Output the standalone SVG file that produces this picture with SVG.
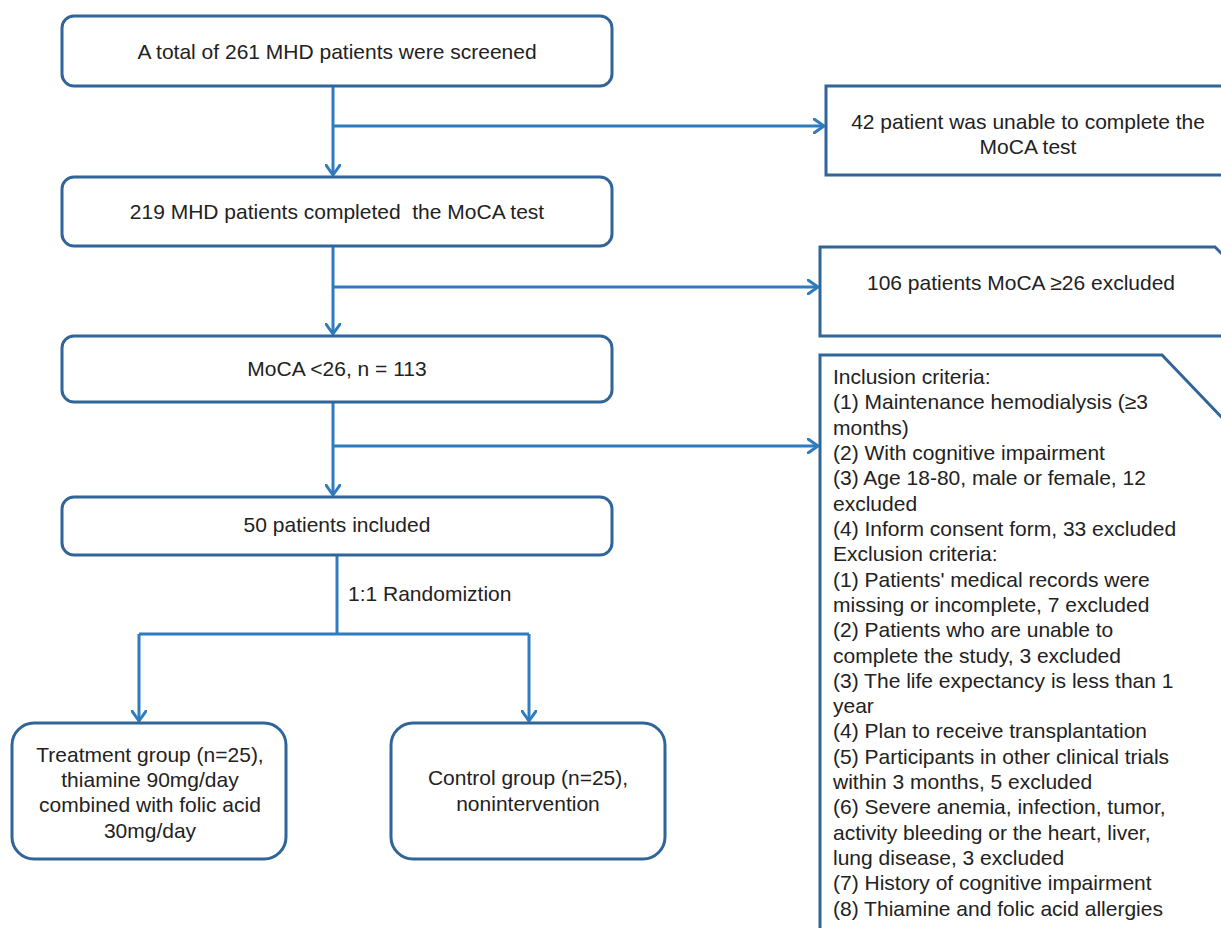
<svg xmlns="http://www.w3.org/2000/svg" width="1221" height="928" viewBox="0 0 1221 928">
<defs>
<marker id="arr" viewBox="0 0 12 16" refX="11" refY="8" markerWidth="12" markerHeight="16" markerUnits="userSpaceOnUse" orient="auto">
<path d="M1,1 L11,8 L1,15" fill="none" stroke="#2e7cc0" stroke-width="3" stroke-linecap="round" stroke-linejoin="round"/>
</marker>
<style>
.box{fill:#fff;stroke:#30659a;stroke-width:3}
.ln{fill:none;stroke:#2e7cc0;stroke-width:3}
text{font-family:"Liberation Sans",Arial,sans-serif;font-size:21px;fill:#222}
.c{text-anchor:middle}
</style>
</defs>
<rect width="1221" height="928" fill="#fff"/>
<g id="connectors">
<path class="ln" d="M333,86 V175" marker-end="url(#arr)"/>
<path class="ln" d="M333,126 H824" marker-end="url(#arr)"/>
<path class="ln" d="M333,246 V334" marker-end="url(#arr)"/>
<path class="ln" d="M333,287 H818" marker-end="url(#arr)"/>
<path class="ln" d="M333,402 V495" marker-end="url(#arr)"/>
<path class="ln" d="M333,446 H818" marker-end="url(#arr)"/>
<path class="ln" d="M337,555 V634"/>
<path class="ln" d="M139,634 H529"/>
<path class="ln" d="M139,634 V721" marker-end="url(#arr)"/>
<path class="ln" d="M529,634 V721" marker-end="url(#arr)"/>
<text x="348" y="601">1:1 Randomiztion</text>
</g>
<g id="n1">
<rect class="box" x="62" y="16" width="550" height="70" rx="12"/>
<text class="c" x="337" y="59">A total of 261 MHD patients were screened</text>
</g>
<g id="n2">
<rect class="box" x="62" y="177" width="550" height="69" rx="12"/>
<text class="c" x="337" y="219" xml:space="preserve">219 MHD patients completed  the MoCA test</text>
</g>
<g id="n3">
<rect class="box" x="62" y="336" width="550" height="66" rx="12"/>
<text class="c" x="337" y="376">MoCA &lt;26, n = 113</text>
</g>
<g id="n4">
<rect class="box" x="62" y="497" width="550" height="58" rx="12"/>
<text class="c" x="337" y="532">50 patients included</text>
</g>
<g id="n5">
<rect class="box" x="826" y="86" width="420" height="89"/>
<text class="c" x="1028" y="129">42 patient was unable to complete the</text>
<text class="c" x="1028" y="154">MoCA test</text>
</g>
<g id="n6">
<path class="box" d="M820,247 H1215 L1245,277 V336 H820 Z"/>
<text class="c" x="1021" y="290">106 patients MoCA ≥26 excluded</text>
</g>
<g id="n7">
<path class="box" d="M820,355 H1162 L1250,447 V960 H820 Z"/>
<text x="833" y="384">Inclusion criteria:</text>
<text x="833" y="409">(1) Maintenance hemodialysis (≥3</text>
<text x="833" y="435">months)</text>
<text x="833" y="460">(2) With cognitive impairment</text>
<text x="833" y="485">(3) Age 18-80, male or female, 12</text>
<text x="833" y="511">excluded</text>
<text x="833" y="536">(4) Inform consent form, 33 excluded</text>
<text x="833" y="561">Exclusion criteria:</text>
<text x="833" y="587">(1) Patients' medical records were</text>
<text x="833" y="612">missing or incomplete, 7 excluded</text>
<text x="833" y="637">(2) Patients who are unable to</text>
<text x="833" y="663">complete the study, 3 excluded</text>
<text x="833" y="688">(3) The life expectancy is less than 1</text>
<text x="833" y="713">year</text>
<text x="833" y="738">(4) Plan to receive transplantation</text>
<text x="833" y="764">(5) Participants in other clinical trials</text>
<text x="833" y="789">within 3 months, 5 excluded</text>
<text x="833" y="814">(6) Severe anemia, infection, tumor,</text>
<text x="833" y="840">activity bleeding or the heart, liver,</text>
<text x="833" y="865">lung disease, 3 excluded</text>
<text x="833" y="890">(7) History of cognitive impairment</text>
<text x="833" y="916">(8) Thiamine and folic acid allergies</text>
</g>
<g id="n8">
<rect class="box" x="12" y="723" width="274" height="136" rx="22"/>
<text class="c" x="150" y="762">Treatment group (n=25),</text>
<text class="c" x="150" y="787">thiamine 90mg/day</text>
<text class="c" x="150" y="812">combined with folic acid</text>
<text class="c" x="150" y="838">30mg/day</text>
</g>
<g id="n9">
<rect class="box" x="391" y="723" width="274" height="136" rx="22"/>
<text class="c" x="528" y="785">Control group (n=25),</text>
<text class="c" x="528" y="811">nonintervention</text>
</g>
</svg>
